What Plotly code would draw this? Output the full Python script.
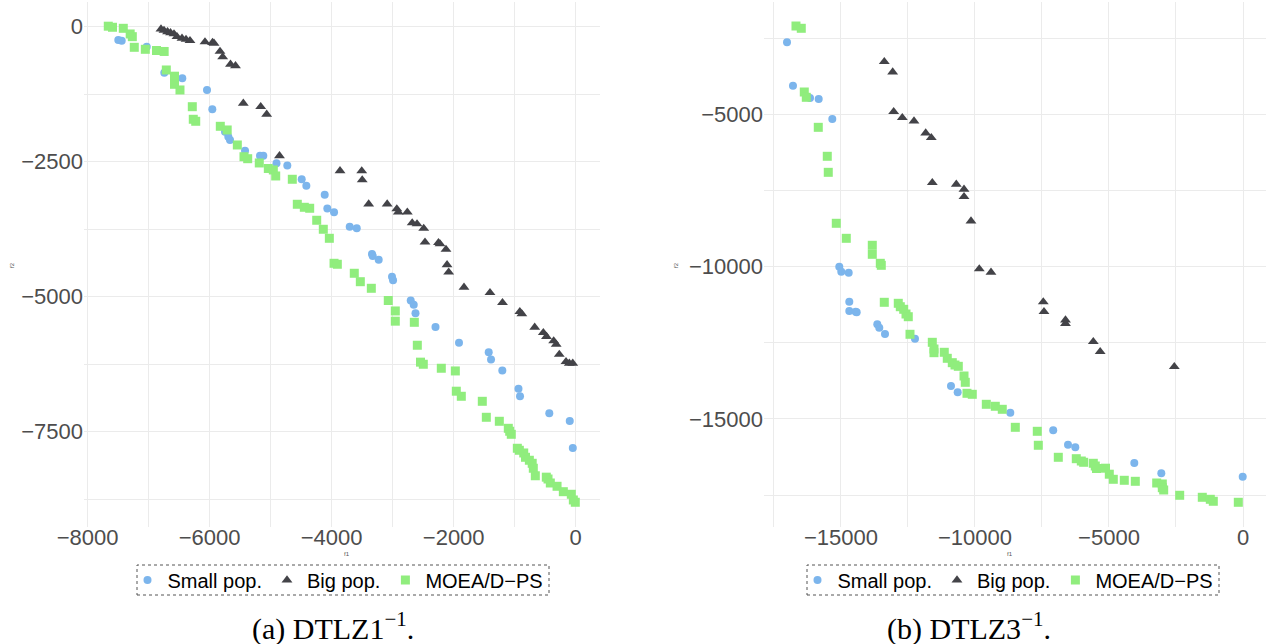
import plotly.graph_objects as go

# ---------------- data : panel (a) DTLZ1^-1 ----------------
sx_a = [-7497,-7441,-7031,-6743,-6448,-6043,-5956,-5748,-5694,-5666,-5420,-5174,-5120,-4904,-4727,
        -4491,-4415,-4114,-4071,-3961,-3704,-3589,-3339,-3327,-3229,-3011,-2994,-2704,-2655,-2626,
        -2298,-1913,-1426,-1388,-1203,-938,-913,-433,-98,-48]
sy_a = [-246,-259,-370,-852,-954,-1172,-1530,-1945,-2037,-2098,-2298,-2389,-2389,-2530,-2571,
        -2826,-2945,-3113,-3367,-3437,-3704,-3734,-4210,-4247,-4315,-4630,-4697,-5071,-5149,-5308,
        -5562,-5852,-6028,-6163,-6367,-6704,-6845,-7160,-7302,-7802]
bx_a = [-6797,-6748,-6690,-6641,-6584,-6535,-6453,-6387,-6322,-6076,-5953,-5928,-5830,-5786,-5658,
        -5576,-5448,-5163,-5065,-4855,-3863,-3507,-3499,-3393,-3090,-2932,-2908,-2760,-2680,-2601,
        -2491,-2470,-2249,-2224,-2126,-2109,-2082,-1831,-1405,-1200,-916,-883,-672,-531,-479,
        -361,-320,-269,-159,-105,-49]
by_a = [-43,-70,-94,-113,-135,-185,-215,-237,-259,-283,-293,-307,-459,-561,-696,
        -724,-1419,-1482,-1622,-2391,-2669,-2672,-2839,-3284,-3284,-3376,-3435,-3435,-3635,-3654,
        -3737,-3991,-4000,-4024,-4126,-4410,-4547,-4826,-4926,-5112,-5278,-5321,-5567,-5667,-5738,
        -5821,-5886,-6071,-6204,-6234,-6234]
gx_a = [-7661,-7592,-7415,-7302,-7267,-7235,-7054,-6871,-6745,-6710,-6576,-6576,-6486,-6284,-6268,
        -6228,-5825,-5712,-5546,-5437,-5376,-5186,-5038,-4956,-4917,-4645,-4563,-4448,-4360,-4245,
        -4137,-4038,-3961,-3907,-3629,-3530,-3350,-3072,-2957,-2957,-2645,-2596,-2544,-2498,-2203,
        -1973,-1957,-1875,-1531,-1465,-1252,-1105,-1082,-1056,-957,-924,-852,-823,-760,-713,
        -695,-662,-482,-454,-416,-306,-203,-72,-39,-7]
gy_a = [9,-11,-30,-135,-185,-382,-419,-441,-459,-802,-917,-1067,-1172,-1482,-1715,
        -1752,-1845,-1913,-2191,-2408,-2445,-2524,-2626,-2654,-2765,-2826,-3289,-3345,-3363,-3585,
        -3752,-3919,-4382,-4400,-4567,-4723,-4845,-5071,-5265,-5454,-5475,-5900,-6213,-6252,-6326,
        -6376,-6751,-6845,-6938,-7234,-7308,-7438,-7493,-7549,-7808,-7845,-7895,-7975,-8030,-8086,
        -8178,-8317,-8343,-8377,-8451,-8512,-8612,-8660,-8765,-8808]

# ---------------- data : panel (b) DTLZ3^-1 ----------------
sx_b = [-17013,-16790,-16155,-15831,-15323,-15062,-14987,-14711,-14689,-14689,-14450,-14413,-13644,
        -13570,-13357,-12238,-10895,-10645,-8682,-7081,-6529,-6257,-4056,-3048,-11]
sy_b = [-2637,-4061,-4465,-4498,-5154,-10002,-10166,-10199,-11150,-11456,-11479,-11498,-11892,
        -12004,-12211,-12365,-13917,-14124,-14793,-15368,-15844,-15926,-16444,-16782,-16894]
bx_b = [-13383,-13070,-13033,-12711,-12275,-11838,-11630,-11592,-10697,-10409,-10409,-10148,-9839,
        -9402,-7451,-7425,-6623,-6623,-5585,-5328,-2563]
by_b = [-3274,-3612,-4915,-5112,-5220,-5614,-5768,-7245,-7297,-7462,-7704,-8502,-10077,
        -10186,-11160,-11479,-11751,-11866,-12463,-12791,-13284]
gx_b = [-16678,-16480,-16368,-16293,-15846,-15510,-15473,-15174,-14801,-13831,-13831,-13532,-13495,
        -13383,-12861,-12786,-12659,-12573,-12488,-12424,-11592,-11529,-11529,-11145,-11033,-10846,
        -10745,-10622,-10409,-10361,-10298,-10100,-9577,-9242,-8981,-8495,-7675,-7637,-6891,-6220,
        -6033,-5944,-5585,-5511,-5466,-5130,-4988,-4839,-4429,-4018,-3220,-3011,-3011,-2959,-2362,
        -1519,-1220,-1108,-175]
gy_b = [-2102,-2177,-4268,-4442,-5427,-6378,-6904,-8577,-9070,-9299,-9595,-9890,-9956,
        -11170,-11203,-11315,-11400,-11554,-11643,-12220,-12483,-12703,-12824,-12811,-13008,-13152,
        -13228,-13271,-13589,-13796,-14157,-14190,-14518,-14583,-14682,-15273,-15404,-15863,-16257,-16303,
        -16379,-16421,-16454,-16543,-16625,-16615,-16812,-16979,-17012,-17045,-17101,-17133,-17255,-17330,-17504,
        -17570,-17636,-17701,-17734]

series_names = ["Small pop.", "Big pop.", "MOEA/D\u2212PS"]

# tick values / labels
xt_a = [-8000, -6000, -4000, -2000, 0]
xl_a = ["\u22128000", "\u22126000", "\u22124000", "\u22122000", "0"]
xm_a = [-7000, -5000, -3000, -1000]
yt_a = [0, -2500, -5000, -7500]
yl_a = ["0", "\u22122500", "\u22125000", "\u22127500"]
ym_a = [-1250, -3750, -6250, -8750]
xt_b = [-15000, -10000, -5000, 0]
xl_b = ["\u221215000", "\u221210000", "\u22125000", "0"]
xm_b = [-17500, -12500, -7500, -2500]
yt_b = [-5000, -10000, -15000]
yl_b = ["\u22125000", "\u221210000", "\u221215000"]
ym_b = [-2500, -7500, -12500, -17500]

captions = ["(a) DTLZ1<sup>\u22121</sup>.", "(b) DTLZ3<sup>\u22121</sup>."]

# ---------------- styling ----------------
W, H = 1269, 644
COL = ["#7cb5ec", "#434348", "#90ed7d"]
SYM = ["circle", "triangle-up", "square"]
SIZE = [8, 9.5, 9]
GRID = "#ebebeb"
SANS = "Liberation Sans, Arial, sans-serif"
TICKFONT = dict(family=SANS, size=22, color="#4d4d4d")

def px_x(p):
    return p / W

def px_y(p):
    return 1 - p / H

fig = go.Figure()

panels = [
    (sx_a, sy_a, bx_a, by_a, gx_a, gy_a, "x", "y", "legend"),
    (sx_b, sy_b, bx_b, by_b, gx_b, gy_b, "x2", "y2", "legend2"),
]
for sx, sy, bx, by, gx, gy, xa, ya, lg in panels:
    for i, (xx, yy) in enumerate([(sx, sy), (bx, by), (gx, gy)]):
        fig.add_trace(go.Scatter(
            x=xx, y=yy, mode="markers", name=series_names[i],
            marker=dict(color=COL[i], symbol=SYM[i], size=SIZE[i], line=dict(width=0)),
            xaxis=xa, yaxis=ya, legend=lg, showlegend=True, cliponaxis=False,
        ))

def axis(domain, rng, tv, tt, minor_vals, anchor, standoff=0):
    return dict(
        domain=domain, range=rng, anchor=anchor,
        tickmode="array", tickvals=tv, ticktext=tt,
        showgrid=True, gridcolor=GRID, gridwidth=1.4,
        minor=dict(tickmode="array", tickvals=minor_vals, showgrid=True,
                   gridcolor=GRID, gridwidth=0.9, ticks=""),
        zeroline=False, showline=False, ticks="",
        tickfont=TICKFONT, automargin=False, ticklabelstandoff=standoff,
    )

ydom = [px_y(527), px_y(2)]
fig.update_layout(
    width=W, height=H,
    margin=dict(l=0, r=0, t=0, b=0),
    paper_bgcolor="white", plot_bgcolor="white",
    xaxis=axis([px_x(84), px_x(600)], [-8059, 398], xt_a, xl_a, xm_a, "y", -5),
    yaxis=axis(ydom, [-9266, 457], yt_a, yl_a, ym_a, "x"),
    xaxis2=axis([px_x(764), px_x(1266)], [-17871, 858], xt_b, xl_b, xm_b, "y2", -5),
    yaxis2=axis(ydom, [-18545, -1314], yt_b, yl_b, ym_b, "x2"),
)

legend_common = dict(
    orientation="h", yanchor="middle", y=px_y(580), xanchor="center",
    font=dict(family=SANS, size=20, color="black"),
    bgcolor="rgba(0,0,0,0)", borderwidth=0, itemwidth=30, tracegroupgap=0,
    itemclick=False, itemdoubleclick=False,
)
fig.update_layout(
    legend=dict(x=px_x(338), **legend_common),
    legend2=dict(x=px_x(1008), **legend_common),
)

# dotted legend frames
for x0, x1 in [(137, 549), (807, 1219)]:
    fig.add_shape(type="rect", xref="paper", yref="paper",
                  x0=px_x(x0), x1=px_x(x1), y0=px_y(595), y1=px_y(565),
                  line=dict(color="#555555", width=1, dash="dot"))

# tiny axis titles
for xc, yc in [(342, 559), (1015, 559)]:
    fig.add_annotation(text="f1", x=px_x(xc), y=px_y(yc), xref="paper", yref="paper",
                       showarrow=False, font=dict(size=6, color="#555555", family=SANS))
for xc, yc in [(7, 265), (676, 265)]:
    fig.add_annotation(text="f2", x=px_x(xc), y=px_y(yc), xref="paper", yref="paper",
                       showarrow=False, textangle=-90,
                       font=dict(size=6, color="#555555", family=SANS))

# captions
for cap, xc in zip(captions, [333, 969]):
    fig.add_annotation(text=cap, x=px_x(xc), y=px_y(626), xref="paper", yref="paper",
                       showarrow=False, xanchor="center", yanchor="middle",
                       font=dict(size=30, color="black", family="Liberation Serif, Times New Roman, serif"))

fig.write_html("out.html")
